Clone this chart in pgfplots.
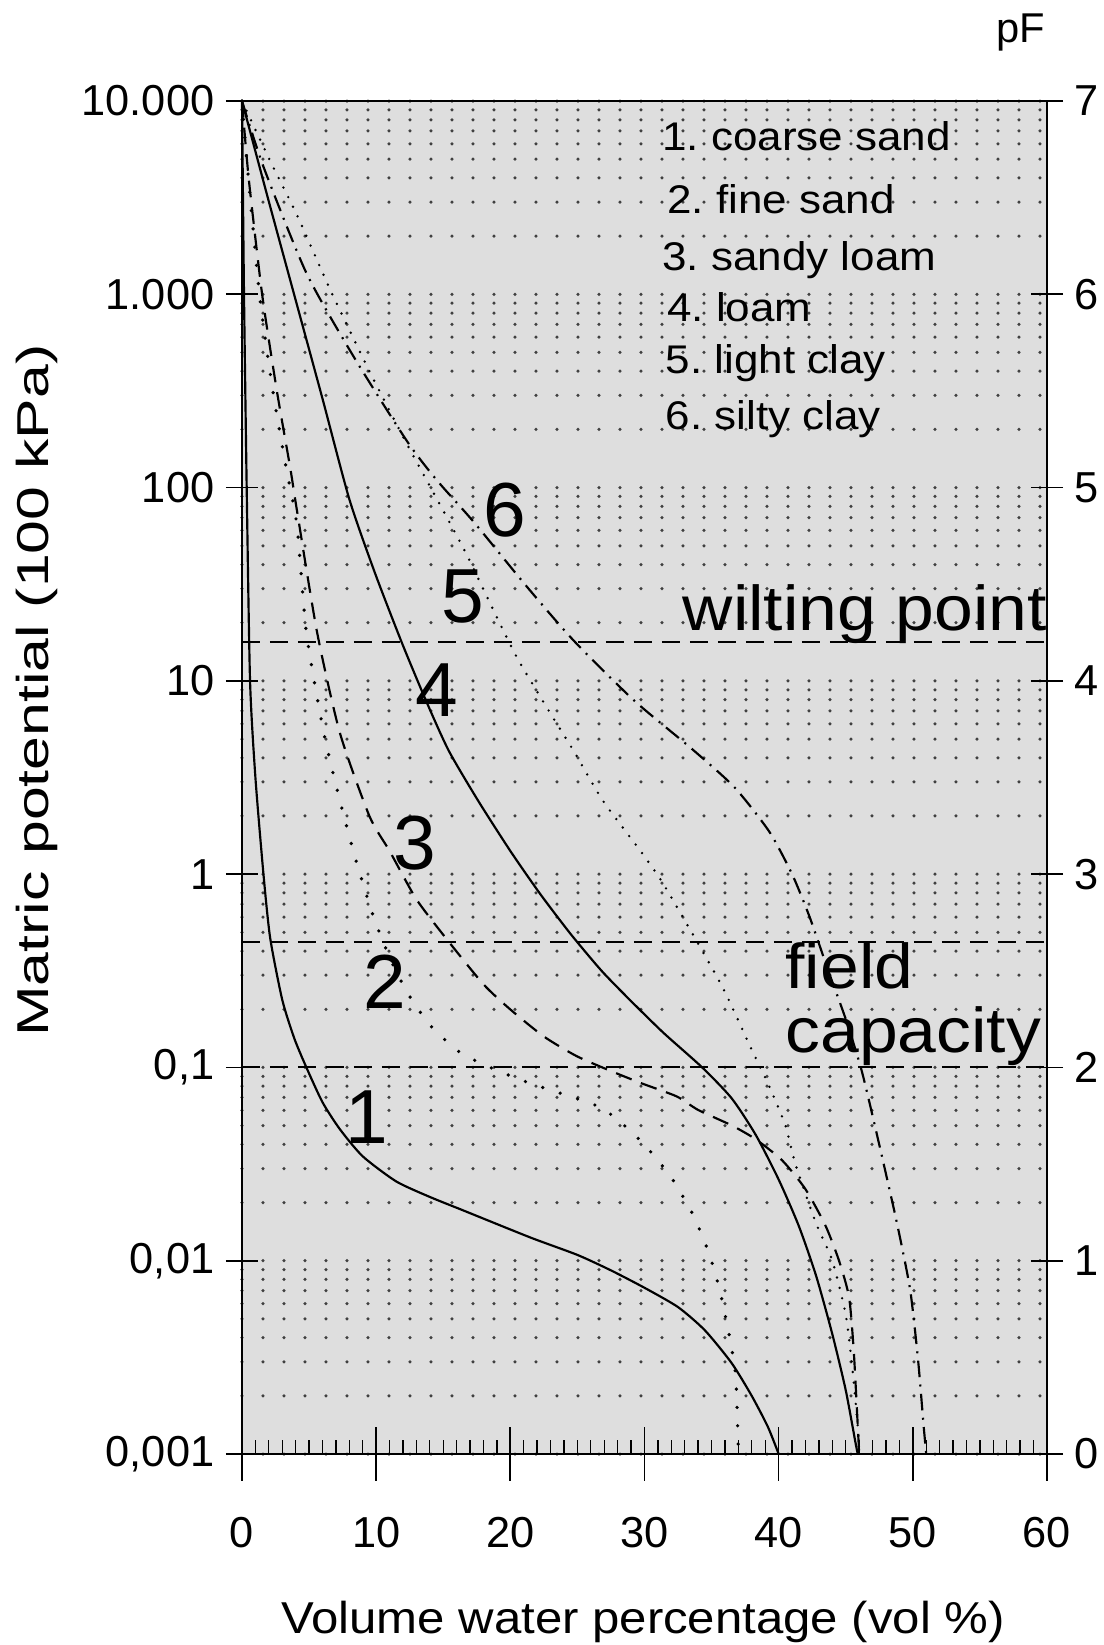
\documentclass[border=0pt]{standalone}
\usepackage{fontspec}
\setmainfont{Liberation Sans}
\newfontfamily\widesans[FakeStretch=1.1]{Liberation Sans}
\newfontfamily\widersans[FakeStretch=1.36]{Liberation Sans}
\usepackage{pgfplots}
\pgfplotsset{compat=1.18}
\frenchspacing

\pgfplotstableread{
x pF
0.0 7.0
0.15 6.0
0.35 5.0
0.6 4.0
1.0 3.5
1.6 3.0
2.1 2.67
3.0 2.35
3.9 2.15
4.8 2.0
6.0 1.82
7.3 1.68
9.0 1.54
11.5 1.41
14.0 1.33
16.5 1.26
21.5 1.12
25.0 1.03
27.5 0.95
30.0 0.86
32.5 0.76
34.5 0.64
36.5 0.47
38.0 0.30
39.2 0.14
40.0 0.0
}\coarsesand

\pgfplotstableread{
x pF
0.0 7.0
0.35 6.7
1.3 6.0
2.3 5.5
3.3 5.1
4.1 4.8
4.8 4.25
6.1 3.73
7.3 3.38
8.5 3.07
9.8 2.78
11.0 2.57
12.3 2.39
14.0 2.22
16.2 2.08
18.5 2.0
21.0 1.93
24.0 1.86
26.5 1.80
28.0 1.73
30.0 1.60
32.0 1.43
33.6 1.24
34.8 1.04
35.6 0.85
36.3 0.62
36.8 0.40
37.0 0.0
}\finesand

\pgfplotstableread{
x pF
0.0 7.0
0.5 6.6
1.5 6.0
2.6 5.5
3.6 5.1
4.1 4.88
5.6 4.25
7.3 3.73
9.5 3.30
11.0 3.12
13.0 2.87
15.3 2.66
18.0 2.43
20.0 2.30
22.5 2.16
24.9 2.06
27.2 1.99
29.7 1.92
32.4 1.85
34.0 1.78
36.5 1.70
38.25 1.63
40.25 1.52
42.0 1.37
43.5 1.18
44.5 1.0
45.25 0.81
45.6 0.53
45.9 0.14
46.0 0.0
}\sandyloam

\pgfplotstableread{
x pF
0.0 7.0
2.0 6.48
4.0 5.97
6.0 5.46
8.0 4.94
9.9 4.56
11.9 4.2
13.7 3.9
15.4 3.64
17.6 3.38
20.0 3.12
22.2 2.90
24.5 2.69
26.8 2.50
28.9 2.35
31.4 2.18
34.3 2.0
36.5 1.84
38.3 1.65
40.0 1.42
41.5 1.18
42.8 0.92
44.0 0.62
45.0 0.33
45.75 0.05
45.9 0.0
}\loam

\pgfplotstableread{
x pF
0.0 7.0
2.1 6.69
4.1 6.41
6.6 6.02
9.3 5.63
11.5 5.33
12.8 5.16
14.3 4.97
16.7 4.66
18.5 4.40
20.5 4.12
23.0 3.83
24.7 3.64
26.9 3.38
29.7 3.12
31.4 2.95
34.5 2.58
36.0 2.39
38.0 2.09
39.25 1.91
40.5 1.70
41.25 1.50
42.75 1.20
44.0 1.0
45.0 0.72
45.5 0.44
45.9 0.14
46.0 0.0
}\lightclay

\pgfplotstableread{
x pF
0.0 7.0
1.6 6.66
4.8 6.11
8.3 5.68
12.3 5.24
14.5 5.04
17.3 4.82
21.2 4.49
24.7 4.21
29.2 3.90
33.5 3.65
36.7 3.45
39.3 3.22
41.0 3.0
42.3 2.78
43.7 2.50
45.0 2.25
46.2 1.98
47.5 1.60
48.8 1.20
49.8 0.85
50.4 0.48
50.8 0.15
51.0 0.0
}\siltyclay

\begin{document}
\begin{tikzpicture}
\useasboundingbox (-72.6pt,-57.3pt) rectangle (258.6pt,436.2pt);
\begin{axis}[
  scale only axis, width=241.5pt, height=405.9pt,
  xmin=0, xmax=60, ymin=0, ymax=7,
  clip=false,
  axis background/.style={fill=black!13},
  axis line style={line width=0.6pt},
  xtick={0,10,...,60}, xticklabels={0,10,20,30,40,50,60},
  minor x tick num=9,
  xtick pos=left,
  tick align=center,
  major tick length=16pt, minor tick length=4.2pt,
  major tick style={line width=0.5pt, black},
  minor x tick style={yshift=2.1pt, line width=0.4pt, black},
  xticklabel style={font=\fontsize{13}{15}\selectfont, yshift=-7.5pt},
  ytick={0,...,7}, yticklabels={}, ytick style={draw=none},
  minor ytick={0.301,0.477,0.602,0.699,0.778,0.845,0.903,0.954,
    1.301,1.477,1.602,1.699,1.778,1.845,1.903,1.954,
    2.301,2.477,2.602,2.699,2.778,2.845,2.903,2.954,
    3.301,3.477,3.602,3.699,3.778,3.845,3.903,3.954,
    4.301,4.477,4.602,4.699,4.778,4.845,4.903,4.954,
    5.301,5.477,5.602,5.699,5.778,5.845,5.903,5.954,
    6.301,6.477,6.602,6.699,6.778,6.845,6.903,6.954},
  minor y tick style={draw=none},
  ymajorgrids, yminorgrids,
  major grid style={black!75, line width=1.05pt, line cap=round, dash pattern=on 0pt off 6.3pt},
  minor grid style={black!75, line width=1.05pt, line cap=round, dash pattern=on 0pt off 6.3pt},
]
% reference lines
\addplot[black, line width=0.6pt, dash pattern=on 5.4pt off 3pt] coordinates {(0,4.2) (60,4.2)};
\addplot[black, line width=0.6pt, dash pattern=on 5.4pt off 3pt] coordinates {(0,2.65) (60,2.65)};
\addplot[black, line width=0.6pt, dash pattern=on 5.4pt off 3pt] coordinates {(0,2.0) (60,2.0)};
% curves
\addplot[black, line width=0.65pt, smooth, tension=0.4] table[x=x,y=pF] {\coarsesand};
\addplot[black, line width=1.1pt, line cap=round, dash pattern=on 0pt off 5.5pt, smooth, tension=0.4] table[x=x,y=pF] {\finesand};
\addplot[black, line width=0.65pt, dash pattern=on 5pt off 3pt, smooth, tension=0.4] table[x=x,y=pF] {\sandyloam};
\addplot[black, line width=0.65pt, smooth, tension=0.4] table[x=x,y=pF] {\loam};
\addplot[black, line width=0.8pt, line cap=round, dash pattern=on 0pt off 3.2pt, smooth, tension=0.4] table[x=x,y=pF] {\lightclay};
\addplot[black, line width=0.65pt, dash pattern=on 5pt off 2.2pt on 0.6pt off 2.2pt, smooth, tension=0.4] table[x=x,y=pF] {\siltyclay};
% curve numbers
\node[font=\fontsize{23}{26}\selectfont] at (axis cs:19.6,4.884) {6};
\node[font=\fontsize{23}{26}\selectfont] at (axis cs:16.49,4.435) {5};
\node[font=\fontsize{23}{26}\selectfont] at (axis cs:14.51,3.953) {4};
\node[font=\fontsize{23}{26}\selectfont] at (axis cs:12.89,3.159) {3};
\node[font=\fontsize{23}{26}\selectfont] at (axis cs:10.66,2.443) {2};
\node[font=\fontsize{23}{26}\selectfont] at (axis cs:9.29,1.745) {1};
% legend text
\node[anchor=base west, inner sep=0pt, font=\widesans\fontsize{12}{14}\selectfont] at (axis cs:31.28,6.746) {1. coarse sand};
\node[anchor=base west, inner sep=0pt, font=\widesans\fontsize{12}{14}\selectfont] at (axis cs:31.65,6.419) {2. fine sand};
\node[anchor=base west, inner sep=0pt, font=\widesans\fontsize{12}{14}\selectfont] at (axis cs:31.28,6.125) {3. sandy loam};
\node[anchor=base west, inner sep=0pt, font=\widesans\fontsize{12}{14}\selectfont] at (axis cs:31.65,5.858) {4. loam};
\node[anchor=base west, inner sep=0pt, font=\widesans\fontsize{12}{14}\selectfont] at (axis cs:31.53,5.591) {5. light clay};
\node[anchor=base west, inner sep=0pt, font=\widesans\fontsize{12}{14}\selectfont] at (axis cs:31.53,5.298) {6. silty clay};
% annotations
\node[anchor=base west, inner sep=0pt, font=\widesans\fontsize{19}{22}\selectfont] at (axis cs:32.8,4.263) {wilting point};
\node[anchor=base west, inner sep=0pt, font=\widesans\fontsize{19}{22}\selectfont] at (axis cs:40.47,2.41) {field};
\node[anchor=base west, inner sep=0pt, font=\widesans\fontsize{19}{22}\selectfont] at (axis cs:40.47,2.075) {capacity};
\end{axis}
% left axis: matric potential
\begin{axis}[
  scale only axis, width=241.5pt, height=405.9pt,
  xmin=0, xmax=60, ymin=0, ymax=7,
  hide x axis, axis y line*=left,
  axis line style={line width=0.6pt},
  ytick={0,...,7},
  yticklabels={{0,001},{0,01},{0,1},1,10,100,{1.000},{10.000}},
  tick align=center, major tick length=9.6pt,
  major tick style={line width=0.5pt, black},
  yticklabel style={font=\fontsize{13}{15}\selectfont},
]
\end{axis}
% right axis: pF
\begin{axis}[
  scale only axis, width=241.5pt, height=405.9pt,
  xmin=0, xmax=60, ymin=0, ymax=7,
  hide x axis, axis y line*=right,
  axis line style={line width=0.6pt},
  ytick={0,...,7},
  yticklabels={0,1,2,3,4,5,6,7},
  tick align=center, major tick length=9.6pt,
  major tick style={line width=0.5pt, black},
  yticklabel style={font=\fontsize{13}{15}\selectfont},
]
\end{axis}
\node[rotate=90, font=\widersans\fontsize{13.4}{16}\selectfont] at (-61.5pt,229pt) {Matric potential (100 kPa)};
\node[anchor=base, font=\widesans\fontsize{13.4}{16}\selectfont] at (120.3pt,-53.7pt) {Volume water percentage (vol \%)};
\node[font=\fontsize{12.5}{15}\selectfont] at (233.7pt,426.6pt) {pF};
\end{tikzpicture}
\end{document}
